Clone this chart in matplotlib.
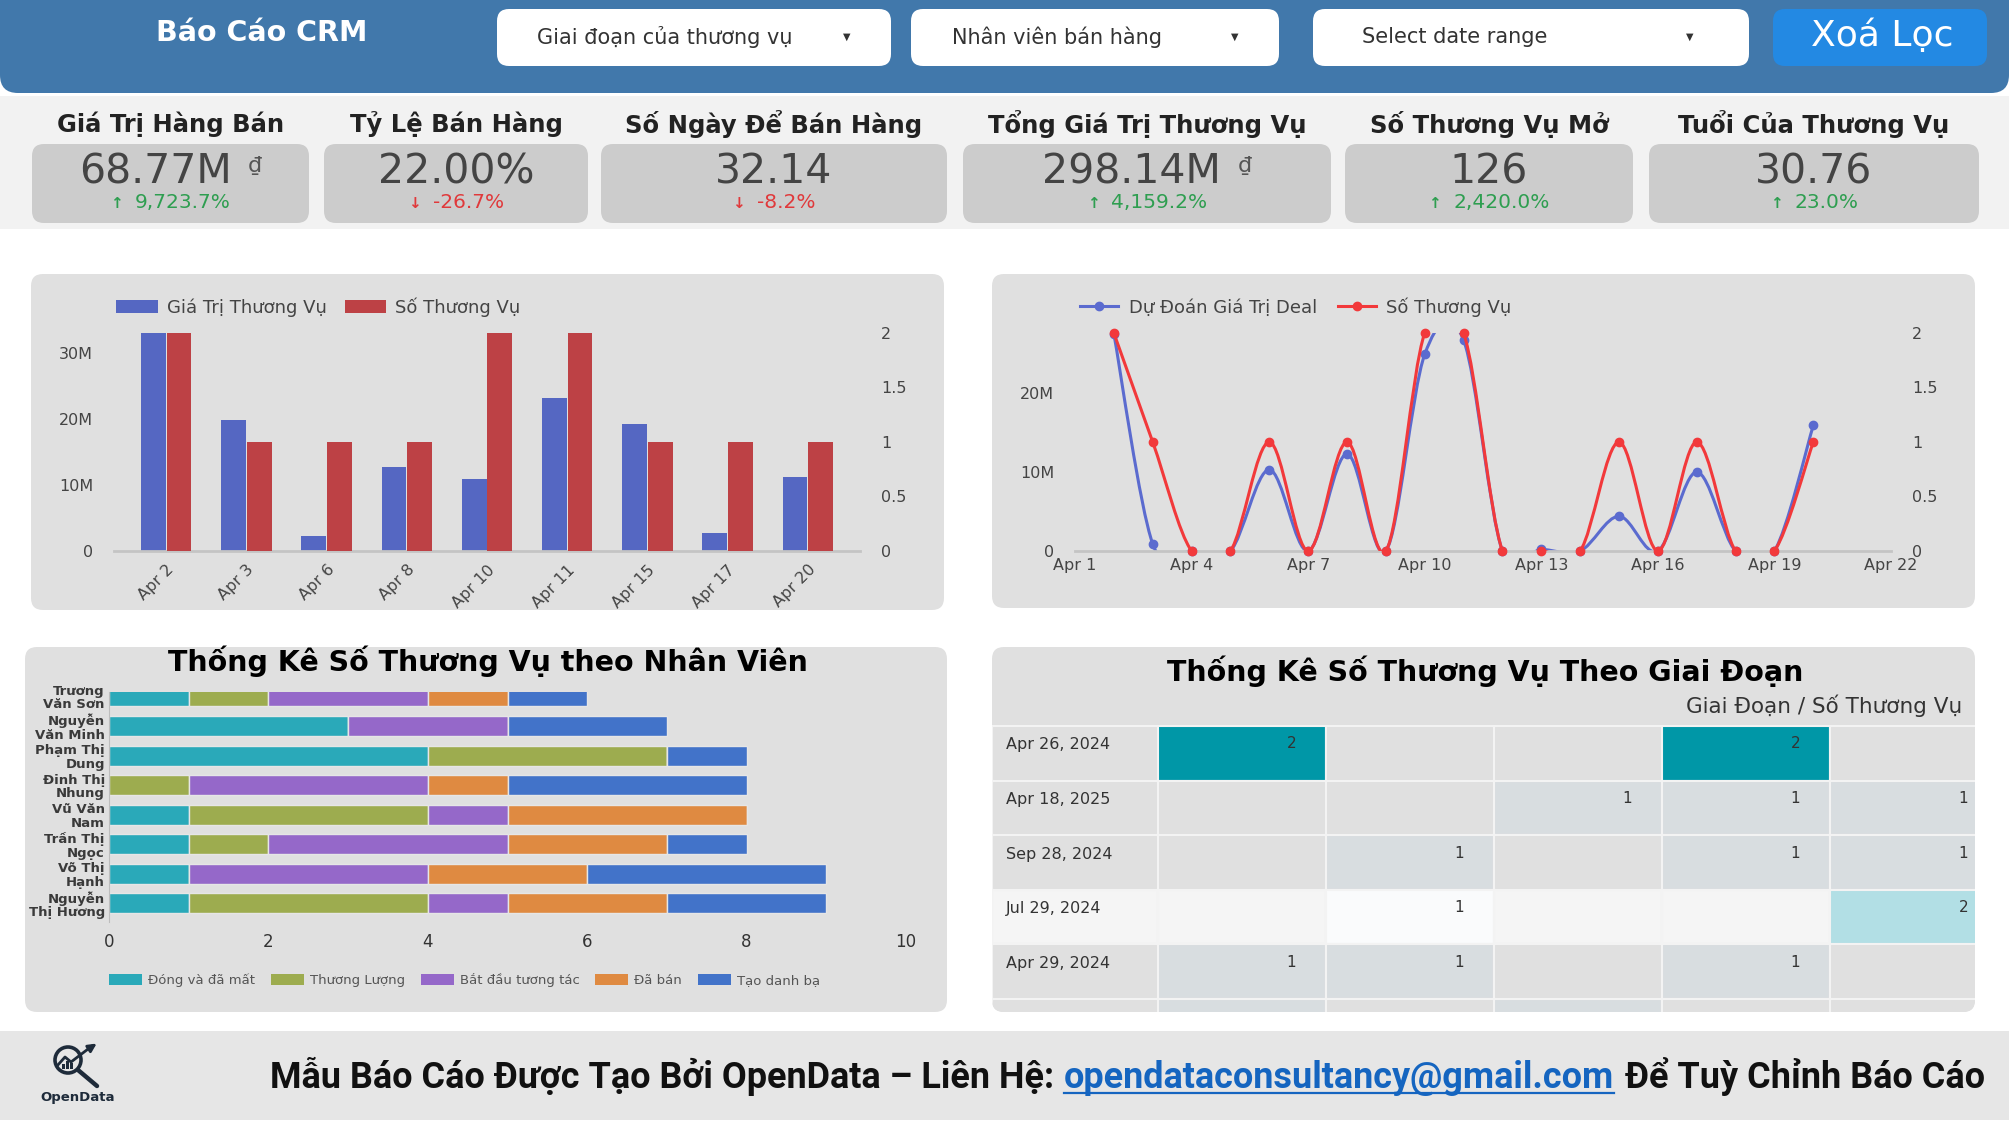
import textwrap
import numpy as np
import matplotlib
matplotlib.use("Agg")
import matplotlib.pyplot as plt
from matplotlib.patches import FancyBboxPatch, Rectangle, PathPatch, Circle, Patch
from matplotlib.path import Path
from matplotlib.lines import Line2D
from matplotlib.ticker import FuncFormatter

plt.rcParams['font.family'] = ['DejaVu Sans']

# ── data ────────────────────────────────────────────────────────────────
filter_labels = ['Giai đoạn của thương vụ', 'Nhân viên bán hàng', 'Select date range']

kpi_titles = ['Giá Trị Hàng Bán', 'Tỷ Lệ Bán Hàng', 'Số Ngày Để Bán Hàng',
              'Tổng Giá Trị Thương Vụ', 'Số Thương Vụ Mở', 'Tuổi Của Thương Vụ']
kpi_values = ['68.77M', '22.00%', '32.14', '298.14M', '126', '30.76']
kpi_units = ['₫', '', '', '₫', '', '']
kpi_deltas = [9723.7, -26.7, -8.2, 4159.2, 2420.0, 23.0]

bar_dates = ['Apr 2', 'Apr 3', 'Apr 6', 'Apr 8', 'Apr 10', 'Apr 11', 'Apr 15', 'Apr 17', 'Apr 20']
bar_values = [35.0e6, 19.8e6, 2.3e6, 12.7e6, 10.9e6, 23.2e6, 19.3e6, 2.7e6, 11.2e6]
bar_counts = [2, 1, 1, 1, 2, 2, 1, 1, 1]

line_days = list(range(2, 21))  # 2 -> 20 April
line_forecast = [27.5e6, 0.9e6, 0, 0, 10.3e6, 0, 12.3e6, 0, 24.9e6, 26.7e6,
                 0, 0.2e6, 0, 4.4e6, 0, 10.0e6, 0, 0, 15.9e6]
line_counts = [2, 1, 0, 0, 1, 0, 1, 0, 2, 2, 0, 0, 0, 1, 0, 1, 0, 0, 1]
line_ticks = [1, 4, 7, 10, 13, 16, 19, 22]

employees = ['Trương Văn Sơn', 'Nguyễn Văn Minh', 'Phạm Thị Dung', 'Đinh Thị Nhung',
             'Vũ Văn Nam', 'Trần Thị Ngọc', 'Võ Thị Hạnh', 'Nguyễn Thị Hương']
stage_names = ['Đóng và đã mất', 'Thương Lượng', 'Bắt đầu tương tác', 'Đã bán', 'Tạo danh bạ']
stage_dong = [1, 3, 4, 0, 1, 1, 1, 1]
stage_thuong_luong = [1, 0, 3, 1, 3, 1, 0, 3]
stage_bat_dau = [2, 2, 0, 3, 1, 3, 3, 1]
stage_da_ban = [1, 0, 0, 1, 3, 2, 2, 2]
stage_tao_danh_ba = [1, 2, 1, 3, 0, 1, 3, 2]

table_dates = ['Apr 26, 2024', 'Apr 18, 2025', 'Sep 28, 2024', 'Jul 29, 2024', 'Apr 29, 2024', '']
table_counts = [[2, 0, 0, 2, 0],
                [0, 0, 1, 1, 1],
                [0, 1, 0, 1, 1],
                [0, 1, 0, 0, 2],
                [1, 1, 0, 1, 0],
                [1, 0, 1, 0, 0]]
highlight_row = 3

footer_parts = ['Mẫu Báo Cáo Được Tạo Bởi OpenData – Liên Hệ:',
                'opendataconsultancy@gmail.com', 'Để Tuỳ Chỉnh Báo Cáo']

# ── colours ─────────────────────────────────────────────────────────────
HEADER = '#4178AB'
PANEL = '#E0E0E0'
BAR_BLUE, BAR_RED = '#5567C2', '#BD4145'
LINE_BLUE, LINE_RED = '#5B6BCF', '#F2393B'
STAGE_COLORS = ['#2AA9B9', '#9DAC4F', '#9568C9', '#DF8A41', '#4273C9']
TXT = '#444444'

W, H = 2009, 1125
fig = plt.figure(figsize=(W / 100, H / 100), dpi=100)
fig.patch.set_facecolor('white')
bg = fig.add_axes([0, 0, 1, 1])
bg.set_xlim(0, W)
bg.set_ylim(H, 0)
bg.axis('off')


def rbox(x0, y0, x1, y1, color, r=12, **kw):
    p = FancyBboxPatch((x0, y0), x1 - x0, y1 - y0,
                       boxstyle=f"round,pad=0,rounding_size={r}",
                       fc=color, ec='none', **kw)
    bg.add_patch(p)
    return p


def px_axes(x0, y0, x1, y1):
    ax = fig.add_axes([x0 / W, 1 - y1 / H, (x1 - x0) / W, (y1 - y0) / H])
    ax.set_facecolor('none')
    return ax


def smooth_path(xs, ys):
    # catmull-rom through the points, as cubic bezier segments
    pts = np.column_stack([xs, ys]).astype(float)
    n = len(pts)
    verts, codes = [pts[0]], [Path.MOVETO]
    for i in range(n - 1):
        p0 = pts[i - 1] if i > 0 else pts[i]
        p1, p2 = pts[i], pts[i + 1]
        p3 = pts[i + 2] if i + 2 < n else pts[i + 1]
        verts += [p1 + (p2 - p0) / 6, p2 - (p3 - p1) / 6, p2]
        codes += [Path.CURVE4] * 3
    return Path(verts, codes)


# ── header ──────────────────────────────────────────────────────────────
rbox(0, -40, W, 93, HEADER, r=18)
bg.text(262, 33, 'Báo Cáo CRM', fontsize=20.5, fontweight='bold', color='white',
        ha='center', va='center')
dd_boxes = [(497, 891), (911, 1279), (1313, 1749)]
dd_text_x = [537, 952, 1362]
dd_caret_x = [847, 1235, 1690]
for (x0, x1), lab, tx, cx in zip(dd_boxes, filter_labels, dd_text_x, dd_caret_x):
    rbox(x0, 9, x1, 66, 'white', r=12)
    bg.text(tx, 37, lab, fontsize=15, color='#333333', va='center')
    bg.text(cx, 37, '▼', fontsize=7, color='#333333', ha='center', va='center')
rbox(1773, 9, 1987, 66, '#2389E3', r=12)
bg.text(1882, 36, 'Xoá Lọc', fontsize=26, color='white', ha='center', va='center')

# ── KPI band ────────────────────────────────────────────────────────────
bg.add_patch(Rectangle((0, 96), W, 133, fc='#F2F2F2', ec='none'))
kpi_box_x = [(32, 309), (324, 588), (601, 947), (963, 1331), (1345, 1633), (1649, 1979)]
kpi_items = []
for (x0, x1), title, val, unit, d in zip(kpi_box_x, kpi_titles, kpi_values, kpi_units, kpi_deltas):
    cx = (x0 + x1) / 2
    bg.text(cx, 124, title, fontsize=17.5, fontweight='bold', color='#222222',
            ha='center', va='center')
    rbox(x0, 144, x1, 223, '#CCCCCC', r=12)
    tv = bg.text(cx, 173, val, fontsize=29.5, color=TXT, ha='left', va='center')
    tu = bg.text(cx, 166, unit, fontsize=16, color='#555555', ha='left', va='center') if unit else None
    col = '#2E9E50' if d >= 0 else '#E0393B'
    ta = bg.text(cx, 204, '↑' if d >= 0 else '↓', fontsize=11, fontweight='bold',
                 color=col, ha='left', va='center')
    txt = f"{d:,.1f}%"
    td = bg.text(cx, 203, txt, fontsize=14.5, color=col, ha='left', va='center')
    kpi_items.append((cx, tv, tu, ta, td))

# ── panels ──────────────────────────────────────────────────────────────
rbox(31, 274, 944, 610, PANEL)
rbox(992, 274, 1975, 608, PANEL)
rbox(25, 647, 947, 1012, PANEL)
panel4 = rbox(992, 647, 1975, 1012, PANEL)

# ── bar chart ───────────────────────────────────────────────────────────
ax1 = px_axes(114, 333, 860, 551)
x = np.arange(len(bar_dates))
ax1.bar(x - 0.16, bar_values, width=0.31, color=BAR_BLUE)
ax1.set_xlim(-0.65, 8.65)
ax1.set_ylim(0, 33e6)
ax1.set_yticks([0, 10e6, 20e6, 30e6])
ax1.yaxis.set_major_formatter(FuncFormatter(lambda v, p: '0' if v == 0 else f'{v / 1e6:.0f}M'))
ax1.set_xticks(x)
ax1.set_xticklabels(bar_dates, rotation=45, ha='right', rotation_mode='anchor')
ax1r = ax1.twinx()
ax1r.set_facecolor('none')
ax1r.bar(x + 0.16, bar_counts, width=0.31, color=BAR_RED)
ax1r.set_ylim(0, 2)
ax1r.set_yticks([0, 0.5, 1, 1.5, 2])
ax1r.yaxis.set_major_formatter(FuncFormatter(lambda v, p: f'{v:g}'))
for a in (ax1, ax1r):
    for s in a.spines.values():
        s.set_visible(False)
    a.tick_params(length=0, labelsize=11.5, labelcolor=TXT)
ax1.spines['bottom'].set_visible(True)
ax1.spines['bottom'].set_color('#C4C4C4')
ax1.spines['bottom'].set_linewidth(2)
ax1.tick_params(axis='y', pad=15)
ax1.tick_params(axis='x', pad=8)
ax1r.tick_params(axis='y', pad=15)
ax1.legend(handles=[Patch(fc=BAR_BLUE), Patch(fc=BAR_RED)],
           labels=['Giá Trị Thương Vụ', 'Số Thương Vụ'], loc='center left',
           bbox_to_anchor=(0.003, 1.119), ncol=2, frameon=False, fontsize=13,
           labelcolor=TXT, handlelength=2.3, handleheight=0.8, handletextpad=0.5,
           columnspacing=1.0, borderpad=0, borderaxespad=0)

# ── line chart ──────────────────────────────────────────────────────────
ax2 = px_axes(1075, 333, 1891, 551)
ax2.set_xlim(1, 22)
ax2.set_ylim(0, 27.6e6)
ax2.add_patch(PathPatch(smooth_path(line_days, line_forecast), fill=False,
                        ec=LINE_BLUE, lw=2.2))
ax2.plot(line_days, line_forecast, 'o', color=LINE_BLUE, ms=6, clip_on=False)
ax2.set_yticks([0, 10e6, 20e6])
ax2.yaxis.set_major_formatter(FuncFormatter(lambda v, p: '0' if v == 0 else f'{v / 1e6:.0f}M'))
ax2.set_xticks(line_ticks)
ax2.set_xticklabels([f'Apr {d}' for d in line_ticks])
ax2r = ax2.twinx()
ax2r.set_facecolor('none')
ax2r.set_ylim(0, 2)
ax2r.add_patch(PathPatch(smooth_path(line_days, line_counts), fill=False,
                         ec=LINE_RED, lw=2.2))
ax2r.plot(line_days, line_counts, 'o', color=LINE_RED, ms=6, clip_on=False)
ax2r.set_yticks([0, 0.5, 1, 1.5, 2])
ax2r.yaxis.set_major_formatter(FuncFormatter(lambda v, p: f'{v:g}'))
for a in (ax2, ax2r):
    for s in a.spines.values():
        s.set_visible(False)
    a.tick_params(length=0, labelsize=11.5, labelcolor=TXT)
ax2.spines['bottom'].set_visible(True)
ax2.spines['bottom'].set_color('#C4C4C4')
ax2.spines['bottom'].set_linewidth(2)
ax2.tick_params(axis='y', pad=15)
ax2.tick_params(axis='x', pad=5)
ax2r.tick_params(axis='y', pad=15)
ax2.legend(handles=[Line2D([], [], color=LINE_BLUE, lw=2.2, marker='o', ms=6),
                    Line2D([], [], color=LINE_RED, lw=2.2, marker='o', ms=6)],
           labels=['Dự Đoán Giá Trị Deal', 'Số Thương Vụ'], loc='center left',
           bbox_to_anchor=(0.006, 1.119), ncol=2, frameon=False, fontsize=13,
           labelcolor=TXT, handlelength=2.1, handletextpad=0.6,
           columnspacing=1.15, borderpad=0, borderaxespad=0)

# ── stacked horizontal bars ─────────────────────────────────────────────
ax3 = px_axes(109, 692, 906, 922)
y = np.arange(len(employees))
left = np.zeros(len(employees))
stages = [stage_dong, stage_thuong_luong, stage_bat_dau, stage_da_ban, stage_tao_danh_ba]
for vals, c in zip(stages, STAGE_COLORS):
    ax3.barh(y, vals, left=left, height=0.68, color=c, edgecolor='#E6E6E6', lw=1)
    left += np.array(vals)
ax3.set_xlim(0, 10)
ax3.set_ylim(7.63, -0.15)
ax3.set_xticks(range(0, 11, 2))
ax3.set_yticks(y)
ax3.set_yticklabels([textwrap.fill(n, 9) for n in employees], fontsize=9.5,
                    fontweight='bold', color='#3A3A3A', linespacing=1.05)
for s in ax3.spines.values():
    s.set_visible(False)
ax3.spines['left'].set_visible(True)
ax3.spines['left'].set_color('#BDBDBD')
ax3.tick_params(length=0)
ax3.tick_params(axis='x', labelsize=12, labelcolor='#333333', pad=8)
ax3.tick_params(axis='y', pad=3)
ax3.legend(handles=[Patch(fc=c) for c in STAGE_COLORS], labels=stage_names,
           loc='center left', bbox_to_anchor=(0.0, -0.252), ncol=5, frameon=False,
           fontsize=9.5, labelcolor='#555555', handlelength=2.5, handleheight=0.83,
           handletextpad=0.45, columnspacing=1.2, borderpad=0, borderaxespad=0)
bg.text(488, 661, 'Thống Kê Số Thương Vụ theo Nhân Viên', fontsize=20.5,
        fontweight='bold', color='black', ha='center', va='center')

# ── pivot table ─────────────────────────────────────────────────────────
bg.text(1485, 671, 'Thống Kê Số Thương Vụ Theo Giai Đoạn', fontsize=20.5,
        fontweight='bold', color='black', ha='center', va='center')
bg.text(1962, 706, 'Giai Đoạn / Số Thương Vụ', fontsize=15.5, color='#333333',
        ha='right', va='center')
ROW_TOP, ROW_H, LAB_W, COL_W = 726, 54.6, 166, 168
TABLE_BOTTOM = 1012


def cell_color(v, hl):
    if hl:
        return {0: '#F5F5F5', 1: '#FAFBFC', 2: '#B2DFE5'}[v]
    return {0: PANEL, 1: '#D8DDE0', 2: '#0097A7'}[v]


for ri, (date, counts) in enumerate(zip(table_dates, table_counts)):
    top = ROW_TOP + ri * ROW_H
    hl = ri == highlight_row
    show_text = top + 26 < TABLE_BOTTOM
    r = Rectangle((992, top), LAB_W, ROW_H, fc=cell_color(0, hl), ec='#F3F3F3', lw=1.5)
    bg.add_patch(r)
    r.set_clip_path(panel4)
    if show_text:
        bg.text(1006, top + 19, date, fontsize=11.5, color='#333333', va='center')
    for ci, v in enumerate(counts):
        cl = 992 + LAB_W + ci * COL_W
        r = Rectangle((cl, top), COL_W, ROW_H, fc=cell_color(v, hl), ec='#F3F3F3', lw=1.5)
        bg.add_patch(r)
        r.set_clip_path(panel4)
        if v and show_text:
            bg.text(cl + 138, top + 18, str(v), fontsize=11, color='#333333',
                    ha='right', va='center')

# ── footer ──────────────────────────────────────────────────────────────
bg.add_patch(Rectangle((0, 1031), W, 89, fc='#E6E6E6', ec='none'))
logo = '#1E2B3A'
bg.add_patch(Circle((68, 1060), 13, fill=False, ec=logo, lw=2.6))
bg.plot([78, 97], [1070, 1086], color=logo, lw=3.2, solid_capstyle='round')
bg.plot([57, 65, 71, 92], [1066, 1057, 1062, 1046], color=logo, lw=2)
bg.annotate('', xy=(99, 1042), xytext=(90, 1048),
            arrowprops=dict(arrowstyle='-|>', color=logo, lw=2, mutation_scale=12))
for k, hgt in enumerate([5, 8, 6]):
    bg.add_patch(Rectangle((62 + k * 4, 1069 - hgt), 2.5, hgt, fc=logo, ec='none'))
bg.text(78, 1098, 'OpenData', fontsize=9.5, fontweight='bold', color=logo,
        ha='center', va='center')

fam = ['Roboto', 'DejaVu Sans']
ft = [bg.text(0, 1088, s, fontsize=26, fontweight='bold', family=fam,
              color=c, va='baseline')
      for s, c in zip(footer_parts, ['#111111', '#1565C0', '#111111'])]

# ── measure text and place the grouped items ────────────────────────────
fig.canvas.draw()
rend = fig.canvas.get_renderer()


def tw(t):
    return t.get_window_extent(rend).width


total = sum(tw(t) for t in ft) + 2 * 0.28 * 26 * 100 / 72
fs = 26 * (1982 - 270) / total
for t in ft:
    t.set_fontsize(fs)
gap = 0.28 * fs * 100 / 72
xpos = 270
for i, t in enumerate(ft):
    t.set_x(xpos)
    w = tw(t)
    if i == 1:
        bg.plot([xpos, xpos + w], [1093, 1093], color='#1565C0', lw=1.6)
    xpos += w + gap

for cx, tv, tu, ta, td in kpi_items:
    wv = tw(tv)
    wu = tw(tu) + 16 if tu is not None else 0
    x0 = cx - (wv + wu) / 2
    tv.set_x(x0)
    if tu is not None:
        tu.set_x(x0 + wv + 16)
    wa, wd = tw(ta), tw(td)
    x0 = cx - (wa + 12 + wd) / 2
    ta.set_x(x0)
    td.set_x(x0 + wa + 12)

fig.savefig('out.png', dpi=100, facecolor='white')
